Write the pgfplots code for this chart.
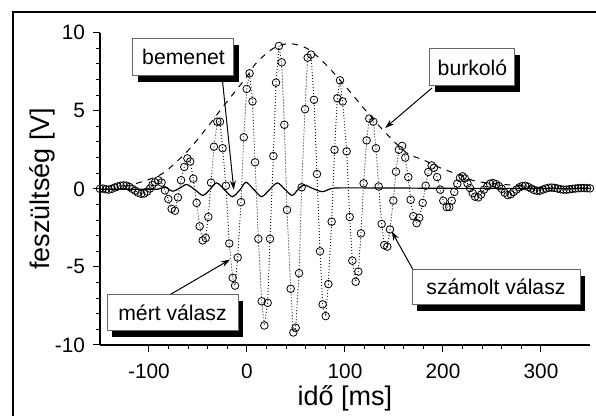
\documentclass[border=0pt]{standalone}
\usepackage{fontspec}
\setmainfont{Liberation Sans}
\usepackage{pgfplots}
\pgfplotsset{compat=1.18}
\usetikzlibrary{shadows,arrows.meta}

\pgfplotstableread{
x y
-150 0.00
-147 0.02
-144 -0.03
-141 -0.05
-138 0.00
-135 0.08
-132 0.15
-129 0.20
-126 0.22
-123 0.20
-120 0.12
-117 0.00
-114 -0.12
-111 -0.25
-108 -0.32
-105 -0.30
-102 -0.18
-99 0.02
-96.5 0.25
-93.9 0.42
-90.5 0.55
-87.1 0.40
-83.7 -0.10
-80.3 -0.65
-76.9 -1.28
-73.5 -1.40
-70.5 -0.55
-67.3 0.55
-64.0 1.40
-60.8 1.95
-57.9 1.75
-54.8 0.65
-51.4 -0.90
-48.3 -2.40
-45.2 -3.30
-42.2 -3.15
-39.5 -1.80
-36.7 0.40
-33.7 2.70
-30.3 4.30
-27.6 4.30
-24.9 2.60
-21.5 0.20
-18.1 -3.50
-14.6 -5.70
-12.2 -6.20
-9.5 -4.40
-6.1 -0.85
-3.3 3.30
-0.3 6.40
2.6 7.40
5.6 5.60
8.2 1.70
11.6 -3.20
15.0 -7.20
17.7 -8.75
21.1 -7.30
23.5 -3.20
26.9 2.10
29.6 6.80
32.6 9.15
35.4 8.10
38.1 4.10
40.8 -1.35
44.6 -6.40
47.3 -9.20
49.7 -8.90
53.1 -5.40
55.8 0.10
59.2 5.10
61.9 8.40
65.3 8.60
68.4 5.70
71.4 0.95
74.5 -4.00
77.2 -7.40
80.3 -8.15
83.0 -6.10
86.4 -2.10
89.3 2.50
92.2 5.80
94.9 6.95
97.6 5.60
101.7 2.40
104.8 -1.80
107.5 -4.60
110.9 -5.95
113.6 -5.30
116.3 -2.85
119.0 0.35
122.1 3.10
124.8 4.50
128.9 4.30
131.6 2.60
134.4 0.15
137.4 -2.25
140.1 -3.60
143.2 -3.70
145.9 -2.60
149.3 -0.75
152.0 1.10
155.0 2.50
158.3 2.75
161.5 2.00
164.6 0.75
167.0 -0.70
169.7 -1.75
173.1 -2.20
175.8 -1.85
179.3 -0.90
182.3 0.20
185.0 1.08
188.4 1.50
190.8 1.35
194.0 0.75
197.2 -0.05
200.3 -0.76
203.8 -1.17
206.4 -1.17
208.9 -0.76
211.5 -0.20
214.6 0.33
217.3 0.70
220.0 0.80
222.4 0.66
225.0 0.35
227.5 0.05
230.3 -0.27
232.7 -0.50
236.0 -0.55
238.8 -0.37
241.8 -0.05
245.2 0.16
248.0 0.33
251.0 0.37
254.1 0.30
257.0 0.18
260.0 0.00
263.0 -0.25
266.0 -0.40
269.0 -0.35
272.0 -0.20
275.0 -0.05
278.0 0.10
281.0 0.18
284.0 0.20
287.0 0.12
290.0 0.02
293.0 -0.08
296.0 -0.12
299.0 -0.12
302.0 -0.05
305.0 0.02
308.0 0.07
311.0 0.08
314.0 0.06
317.0 0.02
320.0 -0.03
323.0 -0.05
326.0 -0.05
329.0 -0.03
332.0 0.00
335.0 0.02
338.0 0.04
341.0 0.05
344.0 0.05
347.0 0.04
350.0 0.03
}\valasz

\pgfplotstableread{
x y
-125 0.15
-110 0.40
-98 0.65
-87 0.95
-75 1.55
-58 2.60
-41 3.90
-24 5.30
-10 6.40
0 7.20
10 8.10
27 9.00
43 9.30
61 9.00
80 8.00
102 6.45
122 4.95
142 3.55
163 2.30
180 1.85
197 1.35
214 0.95
230 0.55
245 0.38
268 0.25
290 0.15
}\burkolo

\pgfplotstableread{
x y
-150 -0.03
-100 -0.03
-91 -0.02
-83.5 0.10
-76 -0.15
-68.5 0.05
-61.5 0.28
-53 -0.06
-45 -0.42
-38 -0.05
-31 0.38
-23 -0.05
-15 -0.50
-7 -0.05
-1 0.42
7 -0.05
15 -0.50
23 -0.05
31 0.38
39 -0.05
46 -0.42
52 -0.05
58 0.25
68 0.00
77 -0.18
86 0.02
95 0.06
120 0.06
160 0.05
220 0.03
350 0.03
}\bemenet

\tikzset{anno/.style={draw=black!60, line width=0.5pt, fill=white,
  drop shadow={shadow xshift=2.5pt, shadow yshift=-3pt, fill=black, opacity=1},
  font=\fontsize{10.6}{12}\selectfont, inner sep=0pt, minimum height=18.5pt, align=center},
  arr/.style={-{Stealth[length=4.5pt,width=3pt]}, line width=0.5pt, black}}

\begin{document}
\begin{tikzpicture}
\useasboundingbox (0,0) rectangle (298pt,208pt);
\draw[line width=1pt] (6.5pt,-20pt) -- (6.5pt,202pt) -- (320pt,202pt);
\begin{axis}[
 at={(50pt,35.5pt)}, anchor=south west,
 width=245pt, height=156.15pt, scale only axis,
 xmin=-150, xmax=350, ymin=-10, ymax=10,
 axis x line=bottom, axis y line=left,
 axis line style={-, line width=0.6pt},
 tick align=outside, major tick length=3.5pt, minor tick length=2pt,
 xtick={-100,0,...,300}, ytick={-10,-5,...,10},
 minor x tick num=4, minor y tick num=4,
 tick style={line width=0.5pt, black},
 /pgf/number format/assume math mode=true,
 tick label style={font=\fontsize{10.4}{12}\selectfont},
 xticklabel style={yshift=-2.5pt},
 yticklabel style={xshift=-0.5pt},
 label style={font=\fontsize{13.5}{16}\selectfont},
 xlabel={idő [ms]}, ylabel={feszültség [V]},
 xlabel style={at={(axis description cs:0.5,-0.172)}, anchor=center},
 ylabel style={at={(axis description cs:-0.118,0.5)}, anchor=center},
 clip=false,
]
\addplot[black, line width=0.6pt, dash pattern=on 0pt off 1.5pt, line cap=round,
  mark=o, mark size=1.9pt, mark options={solid, line width=0.4pt}] table[x=x,y=y] {\valasz};
\addplot[black, line width=0.5pt, dash pattern=on 3pt off 3pt, smooth, no marks] table[x=x,y=y] {\burkolo};
\addplot[black, line width=0.6pt, smooth, no marks] table[x=x,y=y] {\bemenet};

\draw[arr] (axis cs:-25.5,7.23) -- (axis cs:-13.5,-0.05);
\draw[arr] (axis cs:188.8,6.46) -- (axis cs:141,3.9);
\draw[arr] (axis cs:-78.6,-6.78) -- (axis cs:-17.3,-4.53);
\draw[arr] (axis cs:169.4,-5.18) -- (axis cs:147.7,-2.73);

\node[anno, minimum width=50.5pt] at (axis cs:-64.8,8.42) {bemenet};
\node[anno, minimum width=42.5pt] at (axis cs:230.1,7.78) {burkoló};
\node[anno, minimum width=65.5pt, minimum height=18pt] at (axis cs:-76.0,-7.94) {mért válasz};
\node[anno, minimum width=84pt, minimum height=17.5pt] at (axis cs:254.1,-6.30) {számolt válasz};
\end{axis}
\end{tikzpicture}
\end{document}
